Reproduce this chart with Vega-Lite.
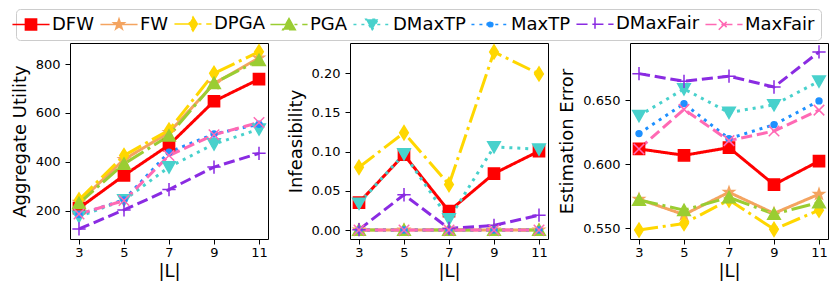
{
  "$schema": "https://vega.github.io/schema/vega-lite/v6.json",
  "autosize": {"type": "pad"},
  "padding": {"left": 10, "top": 8, "right": 5, "bottom": 5},
  "background": "white",
  "config": {
    "font": "DejaVu Sans",
    "view": {"stroke": "black", "strokeWidth": 1},
    "axis": {"labelFont": "DejaVu Sans", "labelFontSize": 13, "labelColor": "black", "titleFont": "DejaVu Sans", "titleFontSize": 18, "titleFontWeight": "normal", "titleColor": "black", "tickColor": "black", "tickSize": 5, "tickWidth": 1, "domain": false, "grid": false},
    "axisX": {"labelPadding": 2, "titlePadding": 3, "labelAngle": 0},
    "axisY": {"labelPadding": 5, "titlePadding": 6},
    "point": {"filled": true, "size": 196, "strokeWidth": 1.5, "opacity": 1, "clip": true}
  },
  "datasets": {
    "util": [
      {"method": "DFW", "L": 3, "value": 211}, {"method": "DFW", "L": 5, "value": 345}, {"method": "DFW", "L": 7, "value": 469}, {"method": "DFW", "L": 9, "value": 648}, {"method": "DFW", "L": 11, "value": 738},
      {"method": "FW", "L": 3, "value": 235}, {"method": "FW", "L": 5, "value": 410}, {"method": "FW", "L": 7, "value": 520}, {"method": "FW", "L": 9, "value": 720}, {"method": "FW", "L": 11, "value": 825},
      {"method": "DPGA", "L": 3, "value": 245}, {"method": "DPGA", "L": 5, "value": 426}, {"method": "DPGA", "L": 7, "value": 530}, {"method": "DPGA", "L": 9, "value": 762}, {"method": "DPGA", "L": 11, "value": 850},
      {"method": "PGA", "L": 3, "value": 231}, {"method": "PGA", "L": 5, "value": 392}, {"method": "PGA", "L": 7, "value": 507}, {"method": "PGA", "L": 9, "value": 722}, {"method": "PGA", "L": 11, "value": 816},
      {"method": "DMaxTP", "L": 3, "value": 177}, {"method": "DMaxTP", "L": 5, "value": 244}, {"method": "DMaxTP", "L": 7, "value": 379}, {"method": "DMaxTP", "L": 9, "value": 473}, {"method": "DMaxTP", "L": 11, "value": 534},
      {"method": "MaxTP", "L": 3, "value": 185}, {"method": "MaxTP", "L": 5, "value": 245}, {"method": "MaxTP", "L": 7, "value": 440}, {"method": "MaxTP", "L": 9, "value": 514}, {"method": "MaxTP", "L": 11, "value": 554},
      {"method": "DMaxFair", "L": 3, "value": 126}, {"method": "DMaxFair", "L": 5, "value": 204}, {"method": "DMaxFair", "L": 7, "value": 287}, {"method": "DMaxFair", "L": 9, "value": 379}, {"method": "DMaxFair", "L": 11, "value": 435},
      {"method": "MaxFair", "L": 3, "value": 187}, {"method": "MaxFair", "L": 5, "value": 242}, {"method": "MaxFair", "L": 7, "value": 426}, {"method": "MaxFair", "L": 9, "value": 511}, {"method": "MaxFair", "L": 11, "value": 561}
    ],
    "infeas": [
      {"method": "DFW", "L": 3, "value": 0.035}, {"method": "DFW", "L": 5, "value": 0.096}, {"method": "DFW", "L": 7, "value": 0.024}, {"method": "DFW", "L": 9, "value": 0.072}, {"method": "DFW", "L": 11, "value": 0.1006},
      {"method": "FW", "L": 3, "value": 0}, {"method": "FW", "L": 5, "value": 0}, {"method": "FW", "L": 7, "value": 0}, {"method": "FW", "L": 9, "value": 0}, {"method": "FW", "L": 11, "value": 0},
      {"method": "DPGA", "L": 3, "value": 0.080}, {"method": "DPGA", "L": 5, "value": 0.124}, {"method": "DPGA", "L": 7, "value": 0.058}, {"method": "DPGA", "L": 9, "value": 0.227}, {"method": "DPGA", "L": 11, "value": 0.199},
      {"method": "PGA", "L": 3, "value": 0}, {"method": "PGA", "L": 5, "value": 0}, {"method": "PGA", "L": 7, "value": 0}, {"method": "PGA", "L": 9, "value": 0}, {"method": "PGA", "L": 11, "value": 0},
      {"method": "DMaxTP", "L": 3, "value": 0.034}, {"method": "DMaxTP", "L": 5, "value": 0.097}, {"method": "DMaxTP", "L": 7, "value": 0.014}, {"method": "DMaxTP", "L": 9, "value": 0.106}, {"method": "DMaxTP", "L": 11, "value": 0.103},
      {"method": "MaxTP", "L": 3, "value": 0}, {"method": "MaxTP", "L": 5, "value": 0}, {"method": "MaxTP", "L": 7, "value": 0}, {"method": "MaxTP", "L": 9, "value": 0}, {"method": "MaxTP", "L": 11, "value": 0},
      {"method": "DMaxFair", "L": 3, "value": 0.0005}, {"method": "DMaxFair", "L": 5, "value": 0.045}, {"method": "DMaxFair", "L": 7, "value": 0.002}, {"method": "DMaxFair", "L": 9, "value": 0.006}, {"method": "DMaxFair", "L": 11, "value": 0.019},
      {"method": "MaxFair", "L": 3, "value": 0}, {"method": "MaxFair", "L": 5, "value": 0}, {"method": "MaxFair", "L": 7, "value": 0}, {"method": "MaxFair", "L": 9, "value": 0}, {"method": "MaxFair", "L": 11, "value": 0}
    ],
    "err": [
      {"method": "DFW", "L": 3, "value": 0.612}, {"method": "DFW", "L": 5, "value": 0.607}, {"method": "DFW", "L": 7, "value": 0.613}, {"method": "DFW", "L": 9, "value": 0.584}, {"method": "DFW", "L": 11, "value": 0.6024},
      {"method": "FW", "L": 3, "value": 0.5726}, {"method": "FW", "L": 5, "value": 0.5605}, {"method": "FW", "L": 7, "value": 0.578}, {"method": "FW", "L": 9, "value": 0.5615}, {"method": "FW", "L": 11, "value": 0.5765},
      {"method": "DPGA", "L": 3, "value": 0.5484}, {"method": "DPGA", "L": 5, "value": 0.5536}, {"method": "DPGA", "L": 7, "value": 0.572}, {"method": "DPGA", "L": 9, "value": 0.549}, {"method": "DPGA", "L": 11, "value": 0.564},
      {"method": "PGA", "L": 3, "value": 0.572}, {"method": "PGA", "L": 5, "value": 0.564}, {"method": "PGA", "L": 7, "value": 0.574}, {"method": "PGA", "L": 9, "value": 0.561}, {"method": "PGA", "L": 11, "value": 0.570},
      {"method": "DMaxTP", "L": 3, "value": 0.638}, {"method": "DMaxTP", "L": 5, "value": 0.659}, {"method": "DMaxTP", "L": 7, "value": 0.6405}, {"method": "DMaxTP", "L": 9, "value": 0.6465}, {"method": "DMaxTP", "L": 11, "value": 0.665},
      {"method": "MaxTP", "L": 3, "value": 0.624}, {"method": "MaxTP", "L": 5, "value": 0.6475}, {"method": "MaxTP", "L": 7, "value": 0.620}, {"method": "MaxTP", "L": 9, "value": 0.631}, {"method": "MaxTP", "L": 11, "value": 0.6496},
      {"method": "DMaxFair", "L": 3, "value": 0.671}, {"method": "DMaxFair", "L": 5, "value": 0.665}, {"method": "DMaxFair", "L": 7, "value": 0.669}, {"method": "DMaxFair", "L": 9, "value": 0.6605}, {"method": "DMaxFair", "L": 11, "value": 0.688},
      {"method": "MaxFair", "L": 3, "value": 0.612}, {"method": "MaxFair", "L": 5, "value": 0.643}, {"method": "MaxFair", "L": 7, "value": 0.6185}, {"method": "MaxFair", "L": 9, "value": 0.626}, {"method": "MaxFair", "L": 11, "value": 0.6424}
    ]
  },
  "spacing": 82,
  "bounds": "flush",
  "hconcat": [
    {
      "width": 198, "height": 196,
      "data": {"name": "util"},
      "layer": [
        {
          "mark": {"type": "line", "strokeWidth": 3, "strokeCap": "butt", "strokeJoin": "round", "clip": true},
          "encoding": {
            "x": {"field": "L", "type": "quantitative", "scale": {"domain": [2.6, 11.4], "nice": false, "zero": false}, "axis": {"values": [3, 5, 7, 9, 11], "title": "|L|"}},
            "y": {"field": "value", "type": "quantitative", "scale": {"domain": [85, 886], "nice": false, "zero": false}, "axis": {"values": [200, 400, 600, 800], "title": "Aggregate Utility"}},
            "color": {"field": "method", "type": "nominal", "scale": {"domain": ["DFW", "FW", "DPGA", "PGA", "DMaxTP", "MaxTP", "DMaxFair", "MaxFair"], "range": ["#ff0000", "#f4a460", "#ffd700", "#9acd32", "#48d1cc", "#1e90ff", "#8a2be2", "#ff69b4"]},
              "legend": {
                "title": null, "orient": "none", "legendX": -54, "legendY": -34, "direction": "horizontal", "columns": 8,
                "labelFont": "DejaVu Sans", "labelFontSize": 18, "labelColor": "black", "labelOffset": 12, "columnPadding": 2,
                "padding": 6, "strokeColor": "#cccccc", "fillColor": "white", "cornerRadius": 4,
                "symbolSize": 196, "symbolStrokeWidth": 3, "symbolOpacity": 1
              }},
            "strokeDash": {"field": "method", "type": "nominal", "scale": {"domain": ["DFW", "FW", "DPGA", "PGA", "DMaxTP", "MaxTP", "DMaxFair", "MaxFair"], "range": [[1, 0], [1, 0], [19.2, 4.8, 3, 4.8], [19.2, 4.8, 3, 4.8], [3, 4.95], [3, 4.95], [11.1, 4.8], [11.1, 4.8]]}}
          }
        },
        {
          "transform": [{"filter": "false"}],
          "mark": {"type": "point", "filled": true, "size": 196, "strokeWidth": 3, "opacity": 1},
          "encoding": {
            "x": {"field": "L", "type": "quantitative"},
            "y": {"field": "value", "type": "quantitative"},
            "color": {"field": "method", "type": "nominal"},
            "stroke": {"field": "method", "type": "nominal", "scale": {"domain": ["DFW", "FW", "DPGA", "PGA", "DMaxTP", "MaxTP", "DMaxFair", "MaxFair"], "range": ["#ff0000", "#f4a460", "#ffd700", "#9acd32", "#48d1cc", "#1e90ff", "#8a2be2", "#ff69b4"]}},
            "strokeDash": {"field": "method", "type": "nominal"},
            "shape": {"field": "method", "type": "nominal", "scale": {"domain": ["DFW", "FW", "DPGA", "PGA", "DMaxTP", "MaxTP", "DMaxFair", "MaxFair"], "range": [
              "M-2.65,0H2.65M-0.8,-0.8H0.8V0.8H-0.8Z",
              "M-2.65,0H2.65M0,-0.8L0.188,-0.259L0.761,-0.247L0.304,0.099L0.47,0.647L0,0.32L-0.47,0.647L-0.304,0.099L-0.761,-0.247L-0.188,-0.259Z",
              "M-2.65,0H2.65M0,-1L0.62,0L0,1L-0.62,0Z",
              "M-2.65,0H2.65M0,-0.85L0.9,0.75H-0.9Z",
              "M-2.65,0H2.65M0,0.85L0.9,-0.75H-0.9Z",
              "M-2.65,0H2.65M0.42,0A0.42,0.42,0,1,1,-0.42,0A0.42,0.42,0,1,1,0.42,0Z",
              "M-2.65,0H2.65M0,-0.95V0.95",
              "M-2.65,0H2.65M-0.75,-0.75L0.75,0.75M-0.75,0.75L0.75,-0.75"]}}
          }
        },
        {"transform": [{"filter": "datum.method === 'DFW'"}], "mark": {"type": "point", "shape": "M-0.8,-0.8H0.8V0.8H-0.8Z", "fill": "#ff0000", "stroke": "#ff0000"}, "encoding": {"x": {"field": "L", "type": "quantitative"}, "y": {"field": "value", "type": "quantitative"}}},
        {"transform": [{"filter": "datum.method === 'FW'"}], "mark": {"type": "point", "shape": "M0,-0.8L0.188,-0.259L0.761,-0.247L0.304,0.099L0.47,0.647L0,0.32L-0.47,0.647L-0.304,0.099L-0.761,-0.247L-0.188,-0.259Z", "fill": "#f4a460", "stroke": "#f4a460"}, "encoding": {"x": {"field": "L", "type": "quantitative"}, "y": {"field": "value", "type": "quantitative"}}},
        {"transform": [{"filter": "datum.method === 'DPGA'"}], "mark": {"type": "point", "shape": "M0,-1L0.62,0L0,1L-0.62,0Z", "fill": "#ffd700", "stroke": "#ffd700"}, "encoding": {"x": {"field": "L", "type": "quantitative"}, "y": {"field": "value", "type": "quantitative"}}},
        {"transform": [{"filter": "datum.method === 'PGA'"}], "mark": {"type": "point", "shape": "M0,-0.85L0.9,0.75H-0.9Z", "fill": "#9acd32", "stroke": "#9acd32"}, "encoding": {"x": {"field": "L", "type": "quantitative"}, "y": {"field": "value", "type": "quantitative"}}},
        {"transform": [{"filter": "datum.method === 'DMaxTP'"}], "mark": {"type": "point", "shape": "M0,0.85L0.9,-0.75H-0.9Z", "fill": "#48d1cc", "stroke": "#48d1cc"}, "encoding": {"x": {"field": "L", "type": "quantitative"}, "y": {"field": "value", "type": "quantitative"}}},
        {"transform": [{"filter": "datum.method === 'MaxTP'"}], "mark": {"type": "point", "shape": "M0.42,0A0.42,0.42,0,1,1,-0.42,0A0.42,0.42,0,1,1,0.42,0Z", "fill": "#1e90ff", "stroke": "#1e90ff"}, "encoding": {"x": {"field": "L", "type": "quantitative"}, "y": {"field": "value", "type": "quantitative"}}},
        {"transform": [{"filter": "datum.method === 'DMaxFair'"}], "mark": {"type": "point", "shape": "M0,-0.95V0.95M-0.95,0H0.95", "fill": "#8a2be2", "stroke": "#8a2be2"}, "encoding": {"x": {"field": "L", "type": "quantitative"}, "y": {"field": "value", "type": "quantitative"}}},
        {"transform": [{"filter": "datum.method === 'MaxFair'"}], "mark": {"type": "point", "shape": "M-0.75,-0.75L0.75,0.75M-0.75,0.75L0.75,-0.75", "fill": "#ff69b4", "stroke": "#ff69b4"}, "encoding": {"x": {"field": "L", "type": "quantitative"}, "y": {"field": "value", "type": "quantitative"}}}
      ]
    },
    {
      "width": 198, "height": 196,
      "data": {"name": "infeas"},
      "layer": [
        {
          "mark": {"type": "line", "strokeWidth": 3, "strokeCap": "butt", "strokeJoin": "round", "clip": true},
          "encoding": {
            "x": {"field": "L", "type": "quantitative", "scale": {"domain": [2.6, 11.4], "nice": false, "zero": false}, "axis": {"values": [3, 5, 7, 9, 11], "title": "|L|"}},
            "y": {"field": "value", "type": "quantitative", "scale": {"domain": [-0.0114, 0.2384], "nice": false, "zero": false}, "axis": {"values": [0, 0.05, 0.1, 0.15, 0.2], "format": ".2f", "title": "Infeasibility"}},
            "color": {"field": "method", "type": "nominal", "legend": null},
            "strokeDash": {"field": "method", "type": "nominal", "legend": null}
          }
        },
        {"transform": [{"filter": "datum.method === 'DFW'"}], "mark": {"type": "point", "shape": "M-0.8,-0.8H0.8V0.8H-0.8Z", "fill": "#ff0000", "stroke": "#ff0000"}, "encoding": {"x": {"field": "L", "type": "quantitative"}, "y": {"field": "value", "type": "quantitative"}}},
        {"transform": [{"filter": "datum.method === 'FW'"}], "mark": {"type": "point", "shape": "M0,-0.8L0.188,-0.259L0.761,-0.247L0.304,0.099L0.47,0.647L0,0.32L-0.47,0.647L-0.304,0.099L-0.761,-0.247L-0.188,-0.259Z", "fill": "#f4a460", "stroke": "#f4a460"}, "encoding": {"x": {"field": "L", "type": "quantitative"}, "y": {"field": "value", "type": "quantitative"}}},
        {"transform": [{"filter": "datum.method === 'DPGA'"}], "mark": {"type": "point", "shape": "M0,-1L0.62,0L0,1L-0.62,0Z", "fill": "#ffd700", "stroke": "#ffd700"}, "encoding": {"x": {"field": "L", "type": "quantitative"}, "y": {"field": "value", "type": "quantitative"}}},
        {"transform": [{"filter": "datum.method === 'PGA'"}], "mark": {"type": "point", "shape": "M0,-0.85L0.9,0.75H-0.9Z", "fill": "#9acd32", "stroke": "#9acd32"}, "encoding": {"x": {"field": "L", "type": "quantitative"}, "y": {"field": "value", "type": "quantitative"}}},
        {"transform": [{"filter": "datum.method === 'DMaxTP'"}], "mark": {"type": "point", "shape": "M0,0.85L0.9,-0.75H-0.9Z", "fill": "#48d1cc", "stroke": "#48d1cc"}, "encoding": {"x": {"field": "L", "type": "quantitative"}, "y": {"field": "value", "type": "quantitative"}}},
        {"transform": [{"filter": "datum.method === 'MaxTP'"}], "mark": {"type": "point", "shape": "M0.42,0A0.42,0.42,0,1,1,-0.42,0A0.42,0.42,0,1,1,0.42,0Z", "fill": "#1e90ff", "stroke": "#1e90ff"}, "encoding": {"x": {"field": "L", "type": "quantitative"}, "y": {"field": "value", "type": "quantitative"}}},
        {"transform": [{"filter": "datum.method === 'DMaxFair'"}], "mark": {"type": "point", "shape": "M0,-0.95V0.95M-0.95,0H0.95", "fill": "#8a2be2", "stroke": "#8a2be2"}, "encoding": {"x": {"field": "L", "type": "quantitative"}, "y": {"field": "value", "type": "quantitative"}}},
        {"transform": [{"filter": "datum.method === 'MaxFair'"}], "mark": {"type": "point", "shape": "M-0.75,-0.75L0.75,0.75M-0.75,0.75L0.75,-0.75", "fill": "#ff69b4", "stroke": "#ff69b4"}, "encoding": {"x": {"field": "L", "type": "quantitative"}, "y": {"field": "value", "type": "quantitative"}}}
      ]
    },
    {
      "width": 198, "height": 196,
      "data": {"name": "err"},
      "layer": [
        {
          "mark": {"type": "line", "strokeWidth": 3, "strokeCap": "butt", "strokeJoin": "round", "clip": true},
          "encoding": {
            "x": {"field": "L", "type": "quantitative", "scale": {"domain": [2.6, 11.4], "nice": false, "zero": false}, "axis": {"values": [3, 5, 7, 9, 11], "title": "|L|"}},
            "y": {"field": "value", "type": "quantitative", "scale": {"domain": [0.5414, 0.695], "nice": false, "zero": false}, "axis": {"values": [0.55, 0.575, 0.6, 0.625, 0.65, 0.675], "format": ".3f", "title": "Estimation Error"}},
            "color": {"field": "method", "type": "nominal", "legend": null},
            "strokeDash": {"field": "method", "type": "nominal", "legend": null}
          }
        },
        {"transform": [{"filter": "datum.method === 'DFW'"}], "mark": {"type": "point", "shape": "M-0.8,-0.8H0.8V0.8H-0.8Z", "fill": "#ff0000", "stroke": "#ff0000"}, "encoding": {"x": {"field": "L", "type": "quantitative"}, "y": {"field": "value", "type": "quantitative"}}},
        {"transform": [{"filter": "datum.method === 'FW'"}], "mark": {"type": "point", "shape": "M0,-0.8L0.188,-0.259L0.761,-0.247L0.304,0.099L0.47,0.647L0,0.32L-0.47,0.647L-0.304,0.099L-0.761,-0.247L-0.188,-0.259Z", "fill": "#f4a460", "stroke": "#f4a460"}, "encoding": {"x": {"field": "L", "type": "quantitative"}, "y": {"field": "value", "type": "quantitative"}}},
        {"transform": [{"filter": "datum.method === 'DPGA'"}], "mark": {"type": "point", "shape": "M0,-1L0.62,0L0,1L-0.62,0Z", "fill": "#ffd700", "stroke": "#ffd700"}, "encoding": {"x": {"field": "L", "type": "quantitative"}, "y": {"field": "value", "type": "quantitative"}}},
        {"transform": [{"filter": "datum.method === 'PGA'"}], "mark": {"type": "point", "shape": "M0,-0.85L0.9,0.75H-0.9Z", "fill": "#9acd32", "stroke": "#9acd32"}, "encoding": {"x": {"field": "L", "type": "quantitative"}, "y": {"field": "value", "type": "quantitative"}}},
        {"transform": [{"filter": "datum.method === 'DMaxTP'"}], "mark": {"type": "point", "shape": "M0,0.85L0.9,-0.75H-0.9Z", "fill": "#48d1cc", "stroke": "#48d1cc"}, "encoding": {"x": {"field": "L", "type": "quantitative"}, "y": {"field": "value", "type": "quantitative"}}},
        {"transform": [{"filter": "datum.method === 'MaxTP'"}], "mark": {"type": "point", "shape": "M0.42,0A0.42,0.42,0,1,1,-0.42,0A0.42,0.42,0,1,1,0.42,0Z", "fill": "#1e90ff", "stroke": "#1e90ff"}, "encoding": {"x": {"field": "L", "type": "quantitative"}, "y": {"field": "value", "type": "quantitative"}}},
        {"transform": [{"filter": "datum.method === 'DMaxFair'"}], "mark": {"type": "point", "shape": "M0,-0.95V0.95M-0.95,0H0.95", "fill": "#8a2be2", "stroke": "#8a2be2"}, "encoding": {"x": {"field": "L", "type": "quantitative"}, "y": {"field": "value", "type": "quantitative"}}},
        {"transform": [{"filter": "datum.method === 'MaxFair'"}], "mark": {"type": "point", "shape": "M-0.75,-0.75L0.75,0.75M-0.75,0.75L0.75,-0.75", "fill": "#ff69b4", "stroke": "#ff69b4"}, "encoding": {"x": {"field": "L", "type": "quantitative"}, "y": {"field": "value", "type": "quantitative"}}}
      ]
    }
  ]
}
